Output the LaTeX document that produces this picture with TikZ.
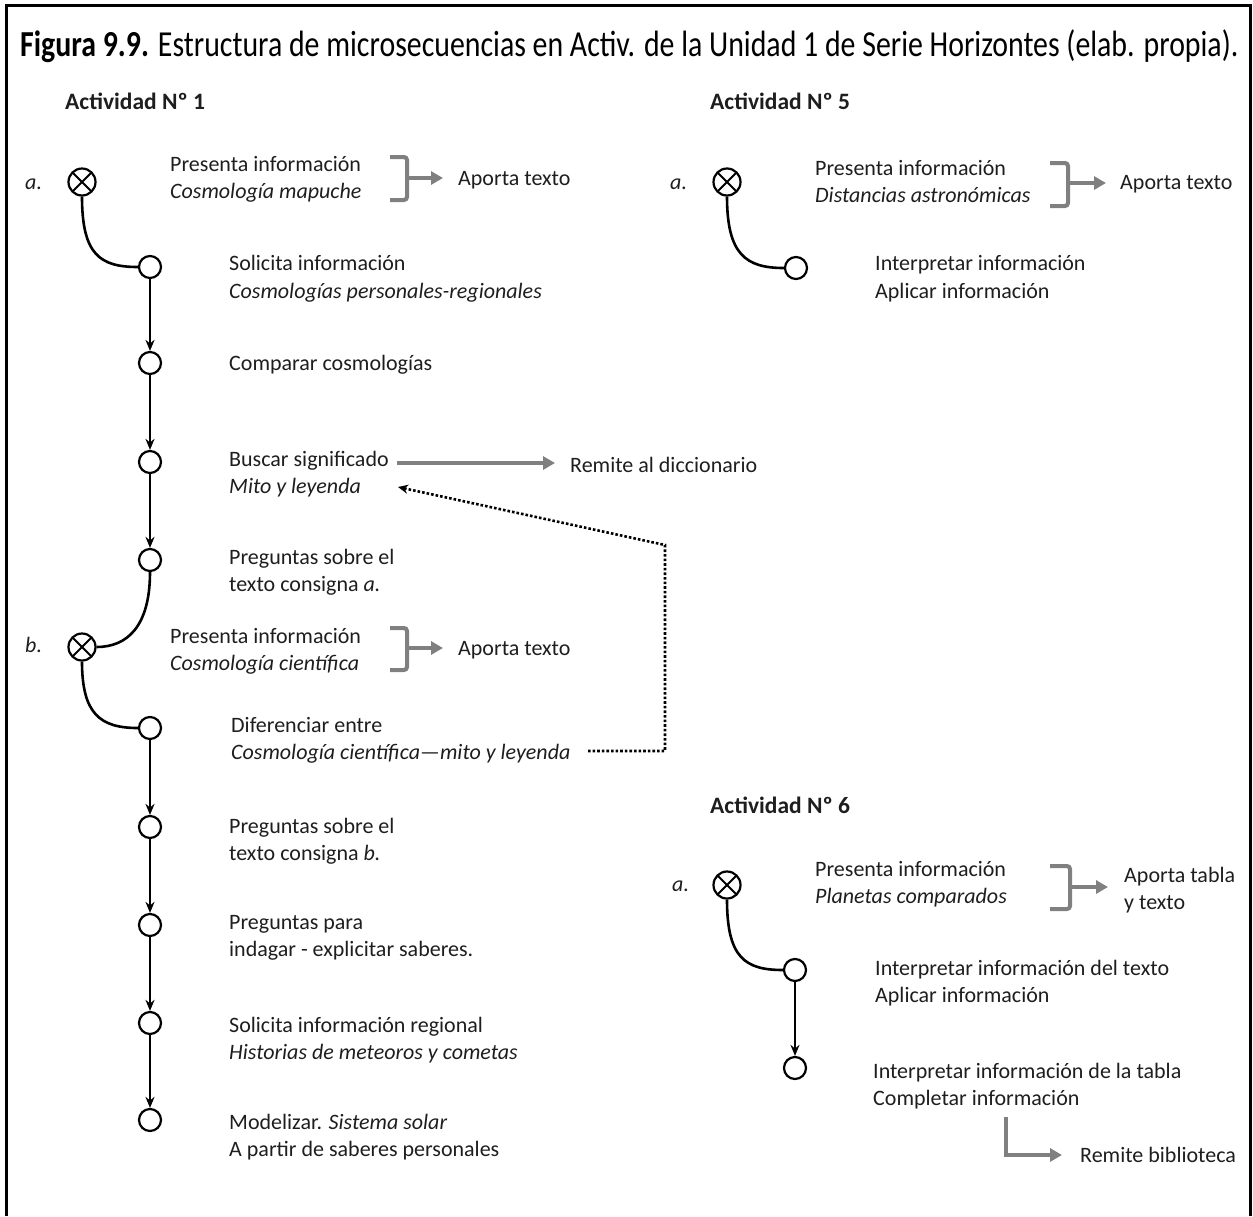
\documentclass[tikz,border=0pt]{standalone}
\usepackage{fontspec}
\setmainfont{Carlito}
\usetikzlibrary{arrows.meta}
\definecolor{ink}{RGB}{30,30,30}
\definecolor{greyarrow}{RGB}{128,128,128}
\begin{document}
\begin{tikzpicture}[x=1pt,y=-1pt,
  txt/.style={anchor=base west, inner sep=0pt, font=\fontsize{22}{26}\selectfont, text=ink},
  itx/.style={txt, font=\fontsize{22}{26}\selectfont\itshape},
  head/.style={anchor=base west, inner sep=0pt, font=\fontsize{23.5}{26}\selectfont\bfseries, text=ink},
  start/.style={circle, draw, line width=2.2pt, minimum size=27pt, inner sep=0pt, fill=white,
    path picture={\draw[line width=1.9pt]
      (path picture bounding box.north west) -- (path picture bounding box.south east)
      (path picture bounding box.north east) -- (path picture bounding box.south west);}},
  stepnode/.style={circle, draw, line width=2.2pt, minimum size=22pt, inner sep=0pt, fill=white},
  flow/.style={line width=2.3pt, -{Stealth[length=11pt,width=9pt]}},
  curvelink/.style={line width=2.6pt},
  greyline/.style={draw=greyarrow, line width=4pt, -{Triangle[length=12pt,width=13pt]}},
  brace/.style={draw=greyarrow, line width=4pt, rounded corners=3pt},
  dots/.style={line width=2.6pt, dotted, -{Stealth[length=10pt,width=9pt]}}
]
\useasboundingbox (0,0) rectangle (1253,1216);

% frame
\draw[line width=3pt] (6,1216) -- (6,5) -- (1250,5) -- (1250,1216);

% caption
\node[anchor=base west, inner sep=0pt, text=black] (caption) at (20,56)
  {\resizebox*{1218pt}{33pt}{\bfseries Figura 9.9.\mdseries{} Estructura de microsecuencias en Activ. de la Unidad 1 de Serie Horizontes (elab. propia).}};

% ===== Actividad 1 =====
\node[head] (h1) at (65,109) {Actividad Nº 1};

\node[itx] (la) at (25,189) {a.};
\node[start] (a1) at (82,182) {};
\node[txt] (p1a) at (170,171) {Presenta información};
\node[itx] (p1b) at (170,198) {Cosmología mapuche};
\draw[brace] (390,157) -- (407,157) -- (407,200) -- (390,200);
\coordinate (br1) at (407,178);
\node[txt] (ap1) at (458,185) {Aporta texto};

\node[stepnode] (c1) at (150,267) {};
\node[txt] (s1a) at (229,270) {Solicita información};
\node[itx] (s1b) at (229,298) {Cosmologías personales-regionales};

\node[stepnode] (c2) at (150,363) {};
\node[txt] (s2a) at (229,370) {Comparar cosmologías};

\node[stepnode] (c3) at (150,462) {};
\node[txt] (s3a) at (229,466) {Buscar significado};
\node[itx] (s3b) at (229,493) {Mito y leyenda};
\node[txt] (dic) at (570,472) {Remite al diccionario};

\node[stepnode] (c4) at (150,560) {};
\node[txt] (s4a) at (229,564) {Preguntas sobre el};
\node[txt] (s4b) at (229,591) {texto consigna \textit{a.}};

\node[itx] (lb) at (25,652) {b.};
\node[start] (b1) at (82,647) {};
\node[txt] (q1a) at (170,643) {Presenta información};
\node[itx] (q1b) at (170,670) {Cosmología científica};
\draw[brace] (390,628) -- (407,628) -- (407,670) -- (390,670);
\coordinate (br2) at (407,648);
\node[txt] (ap2) at (458,655) {Aporta texto};

\node[stepnode] (c5) at (150,728) {};
\node[txt] (s5a) at (231,732) {Diferenciar entre};
\node[itx] (s5b) at (231,759) {Cosmología científica—mito y leyenda};

\node[stepnode] (c6) at (150,827) {};
\node[txt] (s6a) at (229,833) {Preguntas sobre el};
\node[txt] (s6b) at (229,860) {texto consigna \textit{b.}};

\node[stepnode] (c7) at (150,925) {};
\node[txt] (s7a) at (229,929) {Preguntas para};
\node[txt] (s7b) at (229,956) {indagar - explicitar saberes.};

\node[stepnode] (c8) at (150,1023) {};
\node[txt] (s8a) at (229,1032) {Solicita información regional};
\node[itx] (s8b) at (229,1059) {Historias de meteoros y cometas};

\node[stepnode] (c9) at (150,1120) {};
\node[txt] (s9a) at (229,1129) {Modelizar. \textit{Sistema solar}};
\node[txt] (s9b) at (229,1156) {A partir de saberes personales};

% connectors, activity 1
\draw[curvelink] (a1.south) .. controls +(0,58) and +(-38,0) .. (c1.west);
\draw[flow] (c1) -- (c2);
\draw[flow] (c2) -- (c3);
\draw[flow] (c3) -- (c4);
\draw[curvelink] (c4.south) .. controls +(0,55) and +(30,0) .. (b1.east);
\draw[curvelink] (b1.south) .. controls +(0,52) and +(-38,0) .. (c5.west);
\draw[flow] (c5) -- (c6);
\draw[flow] (c6) -- (c7);
\draw[flow] (c7) -- (c8);
\draw[flow] (c8) -- (c9);
\draw[greyline] (br1) -- (443,178);
\draw[greyline] (br2) -- (443,648);
\draw[greyline] (397,463) -- (555,463);
\coordinate (dk1) at (665,751);
\coordinate (dk2) at (665,545);
\draw[dots] (588,751) -- (dk1) -- (dk2) -- (398,487);

% ===== Actividad 5 =====
\node[head] (h5) at (710,109) {Actividad Nº 5};
\node[itx] (la5) at (670,189) {a.};
\node[start] (a5) at (727,182) {};
\node[txt] (p5a) at (815,175) {Presenta información};
\node[itx] (p5b) at (815,202) {Distancias astronómicas};
\draw[brace] (1050,163) -- (1068,163) -- (1068,206) -- (1050,206);
\coordinate (br5) at (1068,183);
\node[txt] (ap5) at (1120,189) {Aporta texto};
\draw[greyline] (br5) -- (1106,183);
\node[stepnode] (d1) at (796,268) {};
\node[txt] (r1a) at (875,270) {Interpretar información};
\node[txt] (r1b) at (875,298) {Aplicar información};
\draw[curvelink] (a5.south) .. controls +(0,58) and +(-38,0) .. (d1.west);

% ===== Actividad 6 =====
\node[head] (h6) at (710,813) {Actividad Nº 6};
\node[itx] (la6) at (672,891) {a.};
\node[start] (a6) at (727,885) {};
\node[txt] (p6a) at (815,876) {Presenta información};
\node[itx] (p6b) at (815,903) {Planetas comparados};
\draw[brace] (1050,866) -- (1070,866) -- (1070,909) -- (1050,909);
\coordinate (br6) at (1070,887);
\node[txt] (ap6a) at (1124,882) {Aporta tabla};
\node[txt] (ap6b) at (1124,909) {y texto};
\draw[greyline] (br6) -- (1108,887);
\node[stepnode] (e1) at (795,970) {};
\node[txt] (u1a) at (875,975) {Interpretar información del texto};
\node[txt] (u1b) at (875,1002) {Aplicar información};
\node[stepnode] (e2) at (795,1068) {};
\node[txt] (u2a) at (873,1078) {Interpretar información de la tabla};
\node[txt] (u2b) at (873,1105) {Completar información};
\node[txt] (bib) at (1080,1162) {Remite biblioteca};
\draw[curvelink] (a6.south) .. controls +(0,58) and +(-38,0) .. (e1.west);
\draw[flow] (e1) -- (e2);
\coordinate (lk) at (1006,1155);
\draw[greyline] (1006,1117) -- (lk) -- (1062,1155);

\end{tikzpicture}
\end{document}
